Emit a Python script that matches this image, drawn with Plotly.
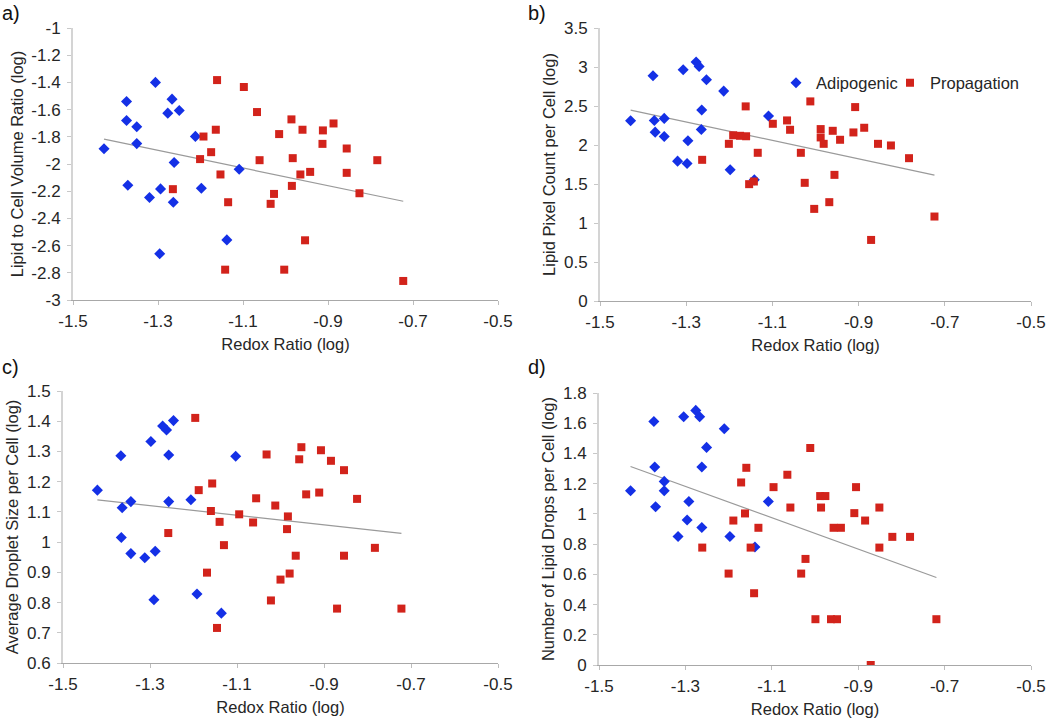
import plotly.graph_objects as go

# ---------------- data ----------------
# Panel a) Lipid to Cell Volume Ratio (log)
a_adipo_x = [-1.427, -1.374, -1.374, -1.350, -1.350, -1.371, -1.306, -1.320, -1.294, -1.296,
             -1.267, -1.277, -1.250, -1.262, -1.264, -1.212, -1.198, -1.109, -1.138]
a_adipo_y = [-1.888, -1.540, -1.680, -1.726, -1.850, -2.156, -1.400, -2.247, -2.183, -2.660,
             -1.523, -1.626, -1.606, -1.989, -2.281, -1.797, -2.178, -2.038, -2.558]
a_prop_x = [-1.161, -1.098, -1.067, -1.164, -1.193, -1.175, -1.201, -1.265, -1.153, -1.135,
            -1.061, -1.015, -0.986, -0.960, -0.983, -0.965, -0.985, -1.027, -1.035, -0.942,
            -0.912, -0.913, -0.887, -0.856, -0.856, -0.826, -0.784, -0.954, -1.142, -1.003, -0.723]
a_prop_y = [-1.383, -1.434, -1.618, -1.748, -1.798, -1.913, -1.964, -2.185, -2.077, -2.281,
            -1.972, -1.780, -1.672, -1.748, -1.957, -2.077, -2.161, -2.220, -2.293, -2.058,
            -1.753, -1.852, -1.702, -1.886, -2.065, -2.215, -1.972, -2.561, -2.777, -2.777, -2.860]
a_trend_y = [-1.817, -2.274]

# Panel b) Lipid Pixel Count per Cell (log)
b_adipo_x = [-1.429, -1.377, -1.374, -1.372, -1.351, -1.351, -1.307, -1.320, -1.298, -1.296,
             -1.277, -1.270, -1.264, -1.265, -1.253, -1.213, -1.198, -1.109, -1.142]
b_adipo_y = [2.311, 2.888, 2.315, 2.165, 2.341, 2.110, 2.965, 1.793, 1.763, 2.054,
             3.064, 3.008, 2.448, 2.199, 2.837, 2.691, 1.682, 2.371, 1.553]
b_prop_x = [-1.162, -1.099, -1.066, -1.059, -1.012, -1.191, -1.175, -1.161, -1.201, -1.263,
            -1.134, -1.154, -1.143, -1.034, -1.025, -0.988, -0.988, -0.981, -1.003, -0.968,
            -0.956, -0.960, -0.943, -0.912, -0.908, -0.887, -0.855, -0.825, -0.783, -0.871, -0.724]
b_prop_y = [2.495, 2.272, 2.315, 2.195, 2.559, 2.125, 2.118, 2.112, 2.015, 1.810,
            1.900, 1.498, 1.532, 1.900, 1.515, 2.204, 2.097, 2.015, 1.181, 1.267,
            1.617, 2.182, 2.067, 2.161, 2.486, 2.221, 2.015, 1.994, 1.831, 0.783, 1.083]
b_trend_y = [2.448, 1.613]

# Panel c) Average Droplet Size per Cell (log)
c_adipo_x = [-1.421, -1.367, -1.364, -1.344, -1.366, -1.344, -1.312, -1.288, -1.298, -1.291,
             -1.271, -1.262, -1.246, -1.257, -1.257, -1.206, -1.192, -1.136, -1.103]
c_adipo_y = [1.172, 1.286, 1.114, 1.134, 1.015, 0.962, 0.948, 0.970, 1.333, 0.809,
             1.384, 1.371, 1.402, 1.288, 1.134, 1.140, 0.828, 0.765, 1.284]
c_prop_x = [-1.196, -1.188, -1.157, -1.160, -1.140, -1.130, -1.169, -1.146, -1.258, -1.095,
            -1.063, -1.056, -1.032, -1.012, -0.983, -0.985, -0.965, -0.979, -1.000, -1.022,
            -0.957, -0.952, -0.941, -0.911, -0.907, -0.884, -0.854, -0.824, -0.854, -0.783,
            -0.870, -0.722]
c_prop_y = [1.411, 1.172, 1.194, 1.103, 1.067, 0.990, 0.899, 0.716, 1.030, 1.092,
            1.065, 1.145, 1.290, 1.121, 1.085, 1.043, 0.955, 0.896, 0.876, 0.807,
            1.274, 1.314, 1.158, 1.164, 1.304, 1.269, 1.238, 1.143, 0.955, 0.981,
            0.780, 0.780]
c_trend_y = [1.140, 1.029]

# Panel d) Number of Lipid Drops per Cell (log)
d_adipo_x = [-1.427, -1.373, -1.371, -1.369, -1.349, -1.349, -1.304, -1.317, -1.296, -1.292,
             -1.276, -1.267, -1.262, -1.262, -1.251, -1.210, -1.197, -1.108, -1.139]
d_adipo_y = [1.153, 1.612, 1.310, 1.047, 1.215, 1.153, 1.643, 0.850, 0.959, 1.082,
             1.685, 1.643, 1.310, 0.910, 1.440, 1.564, 0.850, 1.082, 0.781]
d_prop_x = [-1.011, -1.159, -1.064, -1.171, -1.096, -0.905, -0.988, -0.976, -1.057, -0.986,
            -0.851, -0.909, -0.884, -1.162, -1.189, -1.131, -0.957, -0.940, -0.821, -0.780,
            -0.851, -1.261, -1.149, -1.022, -1.200, -1.032, -1.141, -0.999, -0.963, -0.949,
            -0.719, -0.871]
d_prop_y = [1.436, 1.305, 1.259, 1.208, 1.177, 1.177, 1.118, 1.118, 1.042, 1.042,
            1.042, 1.005, 0.956, 1.003, 0.956, 0.908, 0.908, 0.908, 0.848, 0.848,
            0.777, 0.777, 0.777, 0.702, 0.605, 0.605, 0.475, 0.303, 0.303, 0.303,
            0.303, 0.000]
d_trend_y = [1.314, 0.579]

# axis ticks
x_tick_vals = [-1.5, -1.3, -1.1, -0.9, -0.7, -0.5]
x_tick_text = ["-1.5", "-1.3", "-1.1", "-0.9", "-0.7", "-0.5"]
a_tick_vals = [-3, -2.8, -2.6, -2.4, -2.2, -2, -1.8, -1.6, -1.4, -1.2, -1]
a_tick_text = ["-3", "-2.8", "-2.6", "-2.4", "-2.2", "-2", "-1.8", "-1.6", "-1.4", "-1.2", "-1"]
b_tick_vals = [0, 0.5, 1, 1.5, 2, 2.5, 3, 3.5]
b_tick_text = ["0", "0.5", "1", "1.5", "2", "2.5", "3", "3.5"]
c_tick_vals = [0.6, 0.7, 0.8, 0.9, 1.0, 1.1, 1.2, 1.3, 1.4, 1.5]
c_tick_text = ["0.6", "0.7", "0.8", "0.9", "1", "1.1", "1.2", "1.3", "1.4", "1.5"]
d_tick_vals = [0, 0.2, 0.4, 0.6, 0.8, 1.0, 1.2, 1.4, 1.6, 1.8]
d_tick_text = ["0", "0.2", "0.4", "0.6", "0.8", "1", "1.2", "1.4", "1.6", "1.8"]

panel_titles = ["Lipid to Cell Volume Ratio (log)", "Lipid Pixel Count per Cell (log)",
                "Average Droplet Size per Cell (log)", "Number of Lipid Drops per Cell (log)"]
panel_letters = ["a)", "b)", "c)", "d)"]
x_title = "Redox Ratio (log)"
series_names = ["Adipogenic", "Propagation"]

# ---------------- styling / layout ----------------
W, H = 1050, 721
FONT = "Liberation Sans, Arial, sans-serif"
TXT = "#262626"
BLUE = "#1430e6"
RED = "#d2231b"
TREND = "#9a9a9a"

# plot areas in pixels: (x0, x1, y_top, y_bottom)
boxes = [(73, 498, 28, 300), (600, 1031, 28, 301), (63, 498, 391, 663), (599, 1031, 393, 665)]
letter_pos = [(0, 0), (526, 0), (0, 354), (526, 354)]

panels = [
    (a_adipo_x, a_adipo_y, a_prop_x, a_prop_y, a_trend_y, a_tick_vals, a_tick_text, [-3, -1]),
    (b_adipo_x, b_adipo_y, b_prop_x, b_prop_y, b_trend_y, b_tick_vals, b_tick_text, [0, 3.5]),
    (c_adipo_x, c_adipo_y, c_prop_x, c_prop_y, c_trend_y, c_tick_vals, c_tick_text, [0.6, 1.5]),
    (d_adipo_x, d_adipo_y, d_prop_x, d_prop_y, d_trend_y, d_tick_vals, d_tick_text, [0, 1.8]),
]

fig = go.Figure()
layout = dict(
    width=W, height=H,
    margin=dict(l=0, r=0, t=0, b=0, autoexpand=False),
    paper_bgcolor="white", plot_bgcolor="white",
    font=dict(family=FONT, size=16, color=TXT),
    showlegend=True,
)
annotations = []

for i, (bx, by, px, py, ty, tv, tt, yr) in enumerate(panels):
    n = "" if i == 0 else str(i + 1)
    xa, ya = "x" + n, "y" + n
    x0, x1, yt, yb = boxes[i]
    all_x = list(bx) + list(px)
    tx = [min(all_x), max(all_x)]
    fig.add_trace(go.Scatter(x=tx, y=ty, mode="lines", line=dict(color=TREND, width=1.2),
                             showlegend=False, hoverinfo="skip", xaxis=xa, yaxis=ya))
    fig.add_trace(go.Scatter(x=bx, y=by, mode="markers", name=series_names[0],
                             marker=dict(symbol="diamond", size=8.5, color=BLUE),
                             showlegend=(i == 1), legend="legend", xaxis=xa, yaxis=ya))
    fig.add_trace(go.Scatter(x=px, y=py, mode="markers", name=series_names[1],
                             marker=dict(symbol="square", size=8, color=RED),
                             showlegend=(i == 1), legend="legend2", xaxis=xa, yaxis=ya))
    layout["xaxis" + n] = dict(
        domain=[x0 / W, x1 / W], anchor=ya, range=[-1.5, -0.5], automargin=False,
        tickmode="array", tickvals=x_tick_vals, ticktext=x_tick_text,
        showgrid=False, zeroline=False, showline=True, linecolor="#a8a8a8", linewidth=1,
        ticks="outside", ticklen=4, tickcolor="#bdbdbd", tickwidth=1,
        tickfont=dict(size=17, color=TXT), ticklabelstandoff=2,
        title=dict(text=x_title, font=dict(size=16.5, color=TXT), standoff=8),
    )
    layout["yaxis" + n] = dict(
        domain=[1 - yb / H, 1 - yt / H], anchor=xa, range=yr, automargin=False,
        tickmode="array", tickvals=tv, ticktext=tt,
        showgrid=False, zeroline=False, showline=True, linecolor="#d4d4d4", linewidth=2,
        ticks="outside", ticklen=4, tickcolor="#c8c8c8", tickwidth=1,
        tickfont=dict(size=17, color=TXT), ticklabelstandoff=3,
        title=dict(text=panel_titles[i], font=dict(size=16.5, color=TXT), standoff=4),
    )
    lx, ly = letter_pos[i]
    annotations.append(dict(text=panel_letters[i], xref="paper", yref="paper",
                            x=lx / W, y=1 - ly / H, xanchor="left", yanchor="top",
                            showarrow=False, font=dict(size=20, color="#111111")))

layout["annotations"] = annotations
layout["legend"] = dict(x=776 / W, y=1 - 83 / H, xanchor="left", yanchor="middle",
                        font=dict(size=16.5, color=TXT), bgcolor="rgba(0,0,0,0)",
                        itemwidth=30, orientation="h")
layout["legend2"] = dict(x=890 / W, y=1 - 83 / H, xanchor="left", yanchor="middle",
                         font=dict(size=16.5, color=TXT), bgcolor="rgba(0,0,0,0)",
                         itemwidth=30, orientation="h")
fig.update_layout(**layout)

fig.write_html("out.html", config={"displayModeBar": False},
               post_script="document.body.style.margin='0';document.body.style.overflow='hidden';")
